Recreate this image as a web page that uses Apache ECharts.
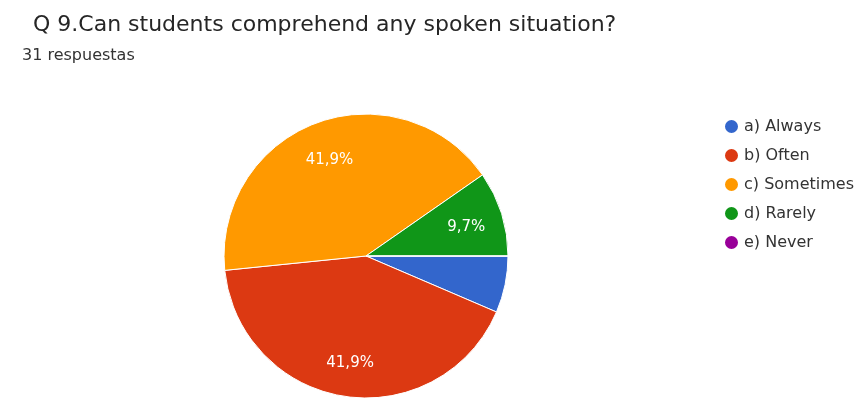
<!DOCTYPE html>
<html>
<head>
<meta charset="utf-8">
<script src="https://cdn.jsdelivr.net/npm/echarts@6/dist/echarts.min.js"></script>
<style>
  html, body { margin: 0; padding: 0; background: #fff; }
  #chart { width: 865px; height: 400px; }
</style>
</head>
<body>
<div id="chart"></div>
<script>
// Survey answers for question 9 (31 responses)
const categories = ['a) Always', 'b) Often', 'c) Sometimes', 'd) Rarely', 'e) Never'];
const counts = [2, 13, 13, 3, 0];
const colors = ['#3366cc', '#dc3912', '#ff9900', '#109618', '#990099'];
const total = 31;

const FONT = '"DejaVu Sans", sans-serif';

const chart = echarts.init(document.getElementById('chart'), null, { renderer: 'canvas' });

const center = [366, 256];
const radius = 142;

const sliceData = categories.map((name, i) => ({
  name: name,
  value: counts[i],
  itemStyle: { color: colors[i] }
}));

// Percent labels sit out toward the rim; small slices stay unlabelled
const labelData = categories.map((name, i) => ({
  name: name,
  value: counts[i],
  label: { show: counts[i] / total >= 0.08 }
}));

chart.setOption({
  animation: false,
  title: [
    {
      text: 'Q 9.Can students comprehend any spoken situation?',
      left: 28, top: 9,
      textStyle: { fontFamily: FONT, fontSize: 22, fontWeight: 'normal', color: '#262626' }
    },
    {
      text: '31 respuestas',
      left: 17, top: 43,
      textStyle: { fontFamily: FONT, fontSize: 16, fontWeight: 'normal', color: '#333' }
    }
  ],
  legend: {
    orient: 'vertical',
    left: 723, top: 118,
    padding: 0,
    icon: 'circle',
    itemWidth: 15, itemHeight: 15,
    itemGap: 12,
    data: categories,
    textStyle: { fontFamily: FONT, fontSize: 16, lineHeight: 16, color: '#333' }
  },
  series: [
    {
      type: 'pie',
      center: center,
      radius: [0, radius],
      startAngle: 0,
      clockwise: true,
      stillShowZeroSum: false,
      minShowLabelAngle: 0,
      itemStyle: { borderColor: '#fff', borderWidth: 1 },
      label: { show: false },
      labelLine: { show: false },
      emphasis: { disabled: true },
      data: sliceData
    },
    {
      type: 'pie',
      center: center,
      radius: [62, radius],
      startAngle: 0,
      clockwise: true,
      silent: true,
      itemStyle: { color: 'rgba(0,0,0,0)', borderWidth: 0 },
      label: {
        show: true,
        position: 'inside',
        offset: [0, 3],
        color: '#fff',
        fontFamily: FONT,
        fontSize: 15,
        formatter: p => (p.value / total * 100).toFixed(1).replace('.', ',') + '%'
      },
      labelLine: { show: false },
      emphasis: { disabled: true },
      data: labelData
    }
  ]
});
</script>
</body>
</html>
